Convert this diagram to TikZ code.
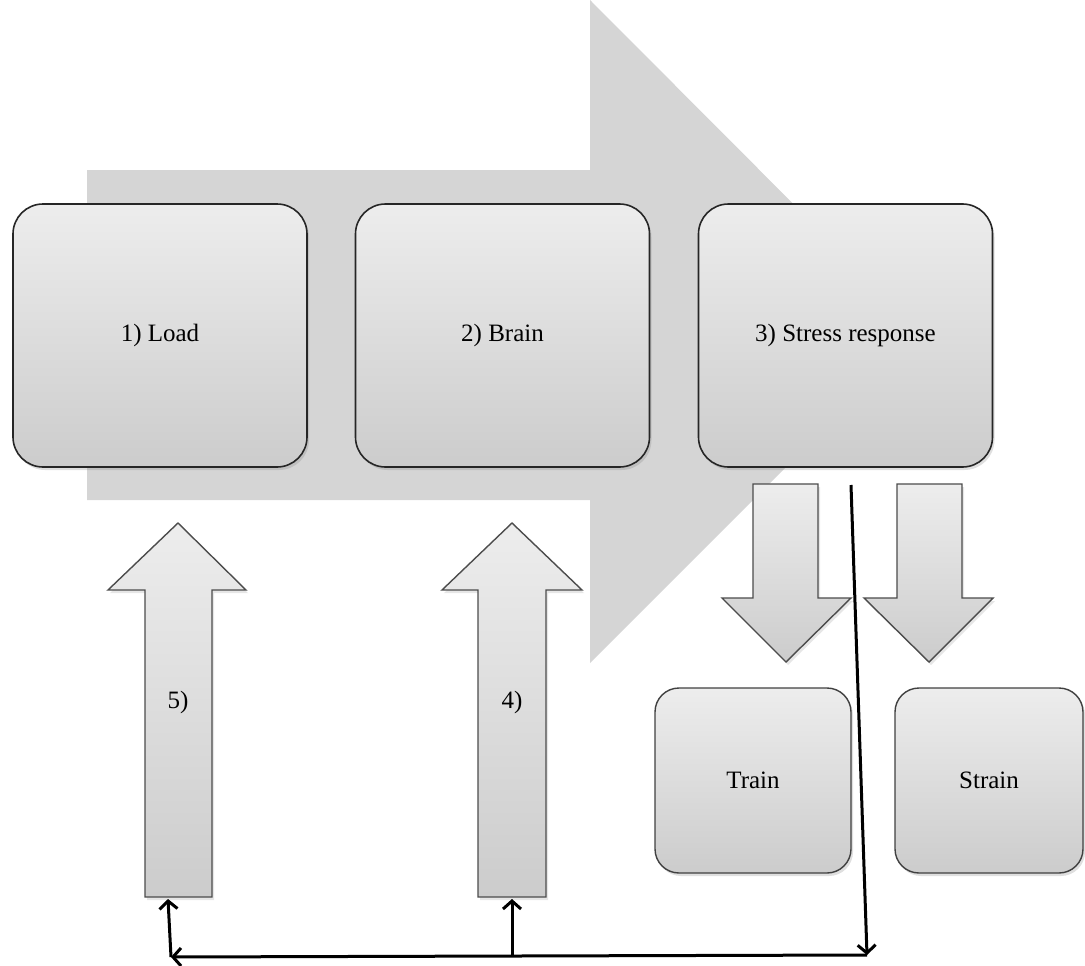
\documentclass[tikz,border=0pt]{standalone}
\usepackage{fontspec}
\setmainfont{Liberation Serif}
\usetikzlibrary{arrows.meta,shadows}
\definecolor{bgarrow}{HTML}{D5D5D5}
\definecolor{gtop}{HTML}{EDEDED}
\definecolor{gbot}{HTML}{CCCCCC}
\tikzset{
  bigbox/.style={draw=black!85, line width=1.6pt, rounded corners=30pt, top color=gtop, bottom color=gbot,
    drop shadow={opacity=0.25, shadow xshift=2pt, shadow yshift=-3pt},
    minimum width=294pt, minimum height=263pt, inner sep=0pt, font=\fontsize{25}{30}\selectfont},
  smallbox/.style={draw=black!75, line width=1.4pt, rounded corners=24pt, top color=gtop, bottom color=gbot,
    drop shadow={opacity=0.25, shadow xshift=2pt, shadow yshift=-3pt},
    minimum height=185pt, inner sep=0pt, font=\fontsize{25}{30}\selectfont},
  blockarrow/.style={draw=black!70, line width=1.4pt, top color=gtop, bottom color=gbot,
    drop shadow={opacity=0.2, shadow xshift=2pt, shadow yshift=-3pt}},
  lbl/.style={font=\fontsize{25}{30}\selectfont},
  conn/.style={line width=3pt, -{Straight Barb[length=8pt,width=18pt,line width=3pt]}}
}
\begin{document}
\begin{tikzpicture}[x=1pt,y=-1pt]
\useasboundingbox (0,0) rectangle (1085,966);
% background big arrow
\fill[bgarrow] (87,170) -- (590,170) -- (590,0) -- (921,332) -- (590,663) -- (590,500) -- (87,500) -- cycle;
% main boxes
\node[bigbox] (load) at (160,335.5) {1) Load};
\node[bigbox] (brain) at (502.5,335.5) {2) Brain};
\node[bigbox] (stress) at (845.5,335.5) {3) Stress response};
% up arrows
\path[blockarrow] (145,897) -- (145,590) -- (108,590) -- (178,523) -- (246,590) -- (212,590) -- (212,897) -- cycle;
\path[blockarrow] (478,897) -- (478,590) -- (442,590) -- (512,523) -- (582,590) -- (546,590) -- (546,897) -- cycle;
\node[lbl] (five) at (178,702) {5)};
\node[lbl] (four) at (512,702) {4)};
% down arrows
\path[blockarrow] (753,484) -- (818,484) -- (818,598) -- (851,598) -- (786,662) -- (722,598) -- (753,598) -- cycle;
\path[blockarrow] (897,484) -- (962,484) -- (962,598) -- (993,598) -- (929,662) -- (864,598) -- (897,598) -- cycle;
% small boxes
\node[smallbox, minimum width=196pt] (train) at (753,780.5) {Train};
\node[smallbox, minimum width=188pt] (strain) at (989,780.5) {Strain};
% connectors
\coordinate (s) at (851,485);
\coordinate (c1) at (867,955);
\coordinate (c2) at (171,957);
\coordinate (c3) at (512,956);
\coordinate (a5) at (168,899);
\coordinate (a4) at (512,899);
\draw[conn] (s) -- (c1);
\draw[conn] (c1) -- (c2);
\draw[conn] (c2) -- (a5);
\draw[conn] (c3) -- (a4);
\end{tikzpicture}
\end{document}
